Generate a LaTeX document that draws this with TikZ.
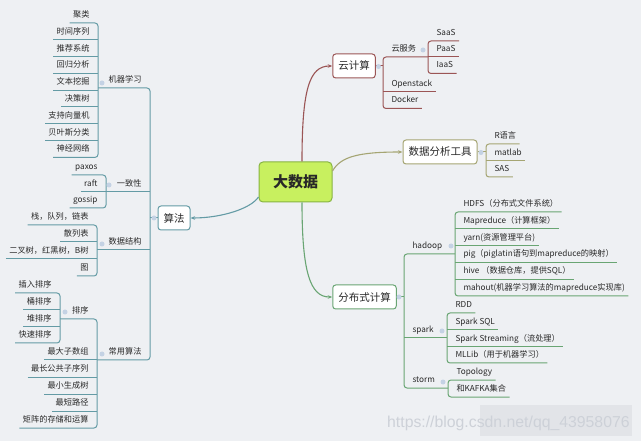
\documentclass[tikz,border=0pt]{standalone}
\usepackage{fontspec}
\setmainfont{Noto Sans CJK SC}
\newfontfamily\wmfont{Liberation Sans}
\usetikzlibrary{arrows.meta}
\definecolor{bg}{RGB}{238,240,243}
\definecolor{txt}{RGB}{40,40,40}
\definecolor{cteal}{RGB}{100,155,165}
\definecolor{cbrown}{RGB}{155,85,85}
\definecolor{colive}{RGB}{165,165,115}
\definecolor{cgreen}{RGB}{105,165,115}
\definecolor{cfold}{RGB}{196,210,228}
\definecolor{bigfill}{RGB}{200,240,95}
\definecolor{bigdraw}{RGB}{135,180,65}
\definecolor{wmtext}{RGB}{205,209,216}
\definecolor{wmblock}{RGB}{226,228,232}
\newcommand\rleaf[4]{\node[leaf,anchor=south west] (#1) at (#2,#3) {\hspace*{5pt}#4};}
\newcommand\lleaf[4]{\node[leaf,anchor=south east] (#1) at (#2,#3) {#4\hspace*{5pt}};}
\newcommand\undl[1]{\draw (#1.south west) -- (#1.south east);}
\newcommand\rbr[2]{\draw[rounded corners=3pt] (#1.south east) -- (#1.south west) -- (#2.south west) -- (#2.south east);}
\newcommand\lbr[2]{\draw[rounded corners=3pt] (#1.south west) -- (#1.south east) -- (#2.south east) -- (#2.south west);}
\begin{document}
\begin{tikzpicture}[x=1pt,y=-1pt,
  leaf/.style={font=\fontsize{8.2}{9.8}\selectfont, text=txt, inner xsep=3pt, inner ysep=3pt, text height=6pt, text depth=2pt},
  box/.style={draw, rounded corners=3pt, fill=white, line width=1pt, font=\fontsize{10.5}{12}\selectfont, text=txt, inner xsep=5.5pt, inner ysep=0pt, minimum height=24pt},
  fold/.style={circle, fill=cfold, inner sep=0pt, minimum size=5pt},
  conn/.style={line width=1.1pt, -{Stealth[length=4.5pt,width=3.5pt]}}]
\fill[bg] (0,0) rectangle (641,441);
\useasboundingbox (0,0) rectangle (641,441);

% watermark block
\fill[wmblock] (480,405) rectangle (632,436);

% central node and first-level boxes
\node[draw=bigdraw, fill=bigfill, line width=1pt, rounded corners=4pt, minimum width=73pt, minimum height=40pt, inner sep=0pt, font=\fontsize{15}{18}\selectfont\bfseries, text=txt] (big) at (295.5,182) {大数据};
\node[box, draw=cbrown] (yun) at (354,66) {云计算};
\node[box, draw=colive] (dt) at (440,152) {数据分析工具};
\node[box, draw=cgreen] (fb) at (364.5,297) {分布式计算};
\node[box, draw=cteal] (sf) at (174,218) {算法};

\draw[conn, cbrown] ([xshift=6.5pt]big.north) .. controls +(0,-72) and +(-23,0) .. (yun.west);
\draw[conn, colive] ([yshift=11pt]big.east) .. controls +(8,-14) and +(-45,0) .. (dt.west);
\draw[conn, cteal] ([yshift=-15pt]big.west) .. controls +(-8,12) and +(30,0) .. (sf.east);
\draw[conn, cgreen] ([xshift=6.5pt]big.south) .. controls +(0,70) and +(-22,0) .. (fb.west);

% ---------- 云计算 ----------
\begin{scope}[cbrown, line width=1pt]
\node[leaf,anchor=south west] (yfw) at (383,57) {\hspace*{5pt}云服务};
\rleaf{saas}{428}{41}{SaaS}
\rleaf{paas}{428}{57}{PaaS}
\rleaf{iaas}{428}{73.5}{IaaS}
\rleaf{ostack}{383}{92}{Openstack}
\rleaf{docker}{383}{108.5}{Docker}
\draw (yun.east) -- (yun.east -| yfw.south west);
\draw[rounded corners=3pt] (paas.south west) -- (yfw.south west) -- (docker.south west) -- (docker.south east);
\undl{ostack}
\rbr{saas}{iaas}
\undl{paas}
\node[fold] (f-yun) at (378.5,66.5) {};
\node[fold] (f-yfw) at (423,50) {};
\end{scope}

% ---------- 数据分析工具 ----------
\begin{scope}[colive, line width=1pt]
\rleaf{rl}{486}{144}{R语言}
\rleaf{matlab}{486}{161}{matlab}
\rleaf{sas}{486}{177}{SAS}
\draw (dt.east) -- (dt.east -| rl.south west);
\rbr{rl}{sas}
\undl{matlab}
\node[fold] (f-dt) at (481,152.5) {};
\end{scope}

% ---------- 分布式计算 ----------
\begin{scope}[cgreen, line width=1pt]
\node[leaf,anchor=south west] (hadoop) at (404,254) {\hspace*{5pt}hadoop};
\node[leaf,anchor=south west] (spark) at (404,338) {\hspace*{5pt}spark};
\node[leaf,anchor=south west] (storm) at (404,388) {\hspace*{5pt}storm};
\rleaf{hdfs}{455}{212}{HDFS（分布式文件系统）}
\rleaf{mapr}{455}{228.8}{Mapreduce（计算框架）}
\rleaf{yarn}{455}{245.6}{yarn(资源管理平台)}
\rleaf{pig}{455}{262.4}{pig（piglatin语句到mapreduce的映射）}
\rleaf{hive}{455}{279.2}{hive （数据仓库，提供SQL）}
\rleaf{mahout}{455}{296}{mahout(机器学习算法的mapreduce实现库)}
\rleaf{rdd}{447}{313}{RDD}
\rleaf{ssql}{447}{330}{Spark SQL}
\rleaf{sstream}{447}{347}{Spark Streaming（流处理）}
\rleaf{mllib}{447}{363}{MLLib（用于机器学习）}
\rleaf{topo}{448}{380}{Topology}
\rleaf{kafka}{448}{397}{和KAFKA集合}
\draw (fb.east) -- (fb.east -| hadoop.south west);
\draw[rounded corners=3pt] (hadoop.south west -| hdfs.south west) -- (hadoop.south west) -- (storm.south west) -- (storm.south west -| topo.south west);
\draw (spark.south west) -- (spark.south west -| rdd.south west);
\rbr{hdfs}{mahout}
\undl{mapr}\undl{yarn}\undl{pig}\undl{hive}
\rbr{rdd}{mllib}
\undl{ssql}\undl{sstream}
\rbr{topo}{kafka}
\node[fold] (f-fb) at (399,297) {};
\node[fold] (f-hadoop) at (451,246) {};
\node[fold] (f-spark) at (442,331) {};
\node[fold] (f-storm) at (443,382) {};
\end{scope}

% ---------- 算法 ----------
\begin{scope}[cteal, line width=1pt]
\node[leaf,anchor=south east] (jq) at (150,88) {机器学习\hspace*{5pt}};
\node[leaf,anchor=south east] (yz) at (150,192) {一致性\hspace*{5pt}};
\node[leaf,anchor=south east] (sj) at (150,250) {数据结构\hspace*{5pt}};
\node[leaf,anchor=south east] (cy) at (150,360) {常用算法\hspace*{5pt}};
% 机器学习
\lleaf{jl}{98}{23}{聚类}
\lleaf{sjxl}{98}{39.8}{时间序列}
\lleaf{tj}{98}{56.6}{推荐系统}
\lleaf{hg}{98}{73.4}{回归分析}
\lleaf{wb}{98}{90.2}{文本挖掘}
\lleaf{jcs}{98}{107}{决策树}
\lleaf{svm}{98}{123.8}{支持向量机}
\lleaf{bys}{98}{140.6}{贝叶斯分类}
\lleaf{sjwl}{98}{157.4}{神经网络}
% 一致性
\lleaf{paxos}{106}{175}{paxos}
\lleaf{raft}{106}{192}{raft}
\lleaf{gossip}{106}{208}{gossip}
% 数据结构
\lleaf{zhan}{97}{225}{栈，队列，链表}
\lleaf{slb}{97}{242}{散列表}
\lleaf{ecs}{97}{259}{二叉树，红黑树，B树}
\lleaf{tu}{97}{276}{图}
% 常用算法
\node[leaf,anchor=south east] (px) at (97,319) {排序\hspace*{5pt}};
\lleaf{dzs}{97}{360}{最大子数组}
\lleaf{zcgg}{97}{377}{最长公共子序列}
\lleaf{zxsc}{97}{394}{最小生成树}
\lleaf{zdlj}{97}{411}{最短路径}
\lleaf{jz}{97}{428}{矩阵的存储和运算}
% 排序
\lleaf{crpx}{60}{293}{插入排序}
\lleaf{tpx}{60}{310}{桶排序}
\lleaf{dpx}{60}{327}{堆排序}
\lleaf{kspx}{60}{343}{快速排序}

\draw (sf.west) -- (sf.west -| jq.south east);
\draw[rounded corners=3pt] (jq.south east -| jl.south east) -- (jq.south east) -- (cy.south east) -- (cy.south east -| dzs.south east);
\draw (yz.south east) -- (yz.south east -| paxos.south east);
\draw (sj.south east) -- (sj.south east -| zhan.south east);
\lbr{jl}{sjwl}
\undl{sjxl}\undl{tj}\undl{hg}\undl{wb}\undl{jcs}\undl{svm}\undl{bys}
\lbr{paxos}{gossip}
\undl{raft}
\lbr{zhan}{tu}
\undl{slb}\undl{ecs}
\draw[rounded corners=3pt] (px.south east -| crpx.south east) -- (px.south east) -- (jz.south east) -- (jz.south west);
\undl{dzs}\undl{zcgg}\undl{zxsc}\undl{zdlj}
\lbr{crpx}{kspx}
\undl{tpx}\undl{dpx}
\node[fold] (f-sf) at (154,218) {};
\node[fold] (f-jq) at (102,83) {};
\node[fold] (f-yz) at (109,185) {};
\node[fold] (f-sj) at (102,244) {};
\node[fold] (f-cy) at (102,354) {};
\node[fold] (f-px) at (65,312) {};
\end{scope}

% watermark
\node[font=\wmfont\fontsize{15.8}{18}\selectfont, text=wmtext, anchor=west, inner sep=0pt] (wm) at (387,423) {https://blog.csdn.net/qq\_43958076};
\end{tikzpicture}
\end{document}
